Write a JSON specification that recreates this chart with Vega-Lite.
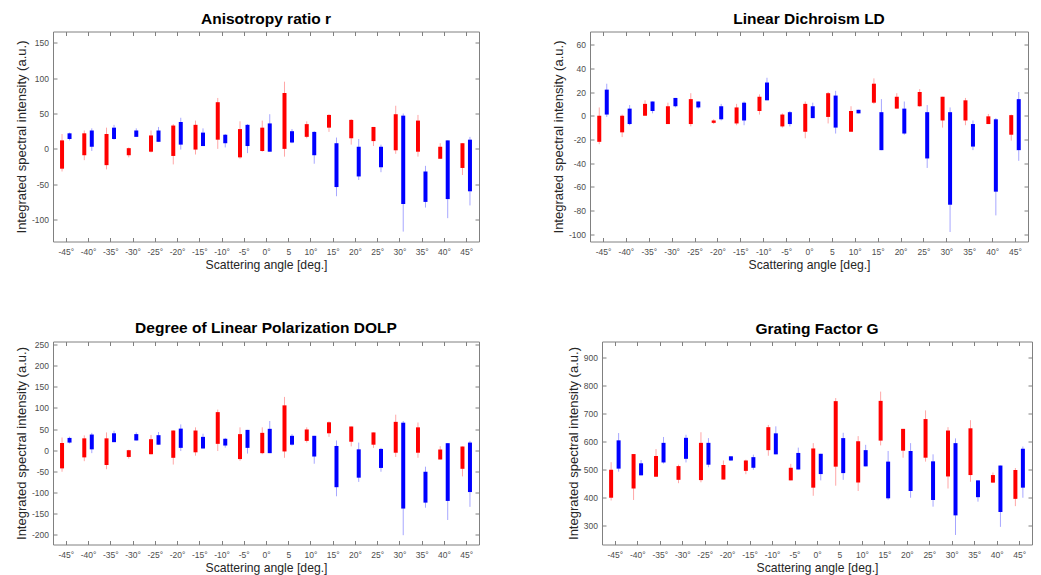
{
"$schema": "https://vega.github.io/schema/vega-lite/v6.json",
"padding": {"left": 14, "top": 10.5, "right": 0, "bottom": 0},
"datasets": {
"p1": [
{"a":-45,"s":"r","lo":-32,"b0":-28,"b1":12,"hi":21},{"a":-45,"s":"b","lo":12,"b0":14,"b1":22,"hi":23},
{"a":-40,"s":"r","lo":-16,"b0":-9,"b1":22,"hi":26},{"a":-40,"s":"b","lo":-3,"b0":3,"b1":26,"hi":29},
{"a":-35,"s":"r","lo":-29,"b0":-23,"b1":21,"hi":30},{"a":-35,"s":"b","lo":13,"b0":14,"b1":30,"hi":34},
{"a":-30,"s":"r","lo":-12,"b0":-9,"b1":1,"hi":2},{"a":-30,"s":"b","lo":17,"b0":17,"b1":26,"hi":29},
{"a":-25,"s":"r","lo":-5,"b0":-4,"b1":19,"hi":26},{"a":-25,"s":"b","lo":10,"b0":10,"b1":26,"hi":31},
{"a":-20,"s":"r","lo":-22,"b0":-10,"b1":33,"hi":35},{"a":-20,"s":"b","lo":-1,"b0":6,"b1":38,"hi":44},
{"a":-15,"s":"r","lo":-8,"b0":-1,"b1":34,"hi":40},{"a":-15,"s":"b","lo":4,"b0":4,"b1":23,"hi":29},
{"a":-10,"s":"r","lo":0,"b0":13,"b1":66,"hi":72},{"a":-10,"s":"b","lo":2,"b0":8,"b1":20,"hi":21},
{"a":-5,"s":"r","lo":-14,"b0":-12,"b1":28,"hi":39},{"a":-5,"s":"b","lo":-6,"b0":4,"b1":34,"hi":35},
{"a":0,"s":"r","lo":-4,"b0":-3,"b1":30,"hi":40},{"a":0,"s":"b","lo":-4,"b0":-4,"b1":36,"hi":49},
{"a":5,"s":"r","lo":-11,"b0":0,"b1":79,"hi":95},{"a":5,"s":"b","lo":8,"b0":9,"b1":25,"hi":28},
{"a":10,"s":"r","lo":15,"b0":17,"b1":35,"hi":39},{"a":10,"s":"b","lo":-21,"b0":-9,"b1":24,"hi":25},
{"a":15,"s":"r","lo":24,"b0":30,"b1":48,"hi":49},{"a":15,"s":"b","lo":-67,"b0":-54,"b1":8,"hi":16},
{"a":20,"s":"r","lo":6,"b0":15,"b1":41,"hi":42},{"a":20,"s":"b","lo":-44,"b0":-39,"b1":3,"hi":14},
{"a":25,"s":"r","lo":4,"b0":11,"b1":31,"hi":31},{"a":25,"s":"b","lo":-33,"b0":-26,"b1":3,"hi":6},
{"a":30,"s":"r","lo":-7,"b0":-2,"b1":49,"hi":61},{"a":30,"s":"b","lo":-117,"b0":-78,"b1":47,"hi":50},
{"a":35,"s":"r","lo":-11,"b0":-4,"b1":40,"hi":48},{"a":35,"s":"b","lo":-83,"b0":-75,"b1":-32,"hi":-24},
{"a":40,"s":"r","lo":-14,"b0":-14,"b1":3,"hi":8},{"a":40,"s":"b","lo":-98,"b0":-71,"b1":12,"hi":12},
{"a":45,"s":"r","lo":-37,"b0":-27,"b1":8,"hi":8},{"a":45,"s":"b","lo":-80,"b0":-60,"b1":13,"hi":17}
],
"p2": [
{"a":-45,"s":"r","lo":-24,"b0":-22,"b1":0,"hi":7},{"a":-45,"s":"b","lo":-1,"b0":1,"b1":22,"hi":27},
{"a":-40,"s":"r","lo":-18,"b0":-14,"b1":0,"hi":1},{"a":-40,"s":"b","lo":-8,"b0":-7,"b1":6,"hi":9},
{"a":-35,"s":"r","lo":0,"b0":0,"b1":10,"hi":13},{"a":-35,"s":"b","lo":2,"b0":4,"b1":12,"hi":12},
{"a":-30,"s":"r","lo":-7,"b0":-7,"b1":8,"hi":11},{"a":-30,"s":"b","lo":7,"b0":8,"b1":15,"hi":15},
{"a":-25,"s":"r","lo":-9,"b0":-7,"b1":14,"hi":19},{"a":-25,"s":"b","lo":6,"b0":7,"b1":12,"hi":12},
{"a":-20,"s":"r","lo":-7,"b0":-6,"b1":-4,"hi":-3},{"a":-20,"s":"b","lo":-4,"b0":-3,"b1":8,"hi":10},
{"a":-15,"s":"r","lo":-8,"b0":-6.5,"b1":7,"hi":10},{"a":-15,"s":"b","lo":-8,"b0":-4,"b1":11,"hi":12},
{"a":-10,"s":"r","lo":1,"b0":4,"b1":16,"hi":18},{"a":-10,"s":"b","lo":13,"b0":13,"b1":28,"hi":32},
{"a":-5,"s":"r","lo":-10,"b0":-9,"b1":1,"hi":2},{"a":-5,"s":"b","lo":-9,"b0":-7,"b1":3,"hi":4},
{"a":0,"s":"r","lo":-19,"b0":-13.5,"b1":10,"hi":12},{"a":0,"s":"b","lo":-2,"b0":-2,"b1":8,"hi":11},
{"a":5,"s":"r","lo":-6.5,"b0":-1,"b1":19,"hi":20},{"a":5,"s":"b","lo":-15,"b0":-10,"b1":17,"hi":21},
{"a":10,"s":"r","lo":-13.5,"b0":-13.5,"b1":4,"hi":8},{"a":10,"s":"b","lo":2,"b0":2,"b1":5,"hi":5},
{"a":15,"s":"r","lo":10,"b0":11,"b1":27,"hi":31.5},{"a":15,"s":"b","lo":-29,"b0":-29,"b1":3,"hi":14},
{"a":20,"s":"r","lo":6,"b0":6,"b1":16,"hi":19},{"a":20,"s":"b","lo":-16,"b0":-15,"b1":6,"hi":12},
{"a":25,"s":"r","lo":7.5,"b0":8,"b1":20,"hi":22.5},{"a":25,"s":"b","lo":-44,"b0":-36,"b1":3,"hi":9},
{"a":30,"s":"r","lo":-10,"b0":-4,"b1":16,"hi":16},{"a":30,"s":"b","lo":-98,"b0":-75,"b1":3,"hi":7},
{"a":35,"s":"r","lo":-8,"b0":-4,"b1":13,"hi":15},{"a":35,"s":"b","lo":-29,"b0":-26,"b1":-7,"hi":-4},
{"a":40,"s":"r","lo":-7,"b0":-7,"b1":-0.5,"hi":1.5},{"a":40,"s":"b","lo":-84,"b0":-64,"b1":-3,"hi":-2},
{"a":45,"s":"r","lo":-21,"b0":-16,"b1":0.5,"hi":1},{"a":45,"s":"b","lo":-38,"b0":-29,"b1":14,"hi":20}
],
"p3": [
{"a":-45,"s":"r","lo":-51,"b0":-43,"b1":17,"hi":30},{"a":-45,"s":"b","lo":16,"b0":18,"b1":29,"hi":32},
{"a":-40,"s":"r","lo":-26,"b0":-17,"b1":28,"hi":35},{"a":-40,"s":"b","lo":-7,"b0":2,"b1":37,"hi":41},
{"a":-35,"s":"r","lo":-45,"b0":-35,"b1":28,"hi":42},{"a":-35,"s":"b","lo":19,"b0":19,"b1":40,"hi":46},
{"a":-30,"s":"r","lo":-20,"b0":-16,"b1":0,"hi":1},{"a":-30,"s":"b","lo":23,"b0":23,"b1":38,"hi":42},
{"a":-25,"s":"r","lo":-10,"b0":-9.5,"b1":26,"hi":36},{"a":-25,"s":"b","lo":13,"b0":13,"b1":35.5,"hi":43},
{"a":-20,"s":"r","lo":-34,"b0":-18,"b1":46.5,"hi":47},{"a":-20,"s":"b","lo":-2,"b0":5.5,"b1":51,"hi":61},
{"a":-15,"s":"r","lo":-13,"b0":-5,"b1":46.5,"hi":54},{"a":-15,"s":"b","lo":4,"b0":4,"b1":31.5,"hi":39},
{"a":-10,"s":"r","lo":-2,"b0":15,"b1":90,"hi":96},{"a":-10,"s":"b","lo":6,"b0":11,"b1":27,"hi":29},
{"a":-5,"s":"r","lo":-25,"b0":-21,"b1":38,"hi":54},{"a":-5,"s":"b","lo":-8,"b0":5.5,"b1":48,"hi":48},
{"a":0,"s":"r","lo":-9.5,"b0":-7,"b1":41,"hi":54},{"a":0,"s":"b","lo":-7,"b0":-7,"b1":50.5,"hi":69},
{"a":5,"s":"r","lo":-18,"b0":-3,"b1":106,"hi":126},{"a":5,"s":"b","lo":11,"b0":13,"b1":34,"hi":38},
{"a":10,"s":"r","lo":18,"b0":22,"b1":49,"hi":54},{"a":10,"s":"b","lo":-32,"b0":-15,"b1":34,"hi":34},
{"a":15,"s":"r","lo":31.5,"b0":40,"b1":66,"hi":68},{"a":15,"s":"b","lo":-109,"b0":-87.5,"b1":10,"hi":23},
{"a":20,"s":"r","lo":9,"b0":20,"b1":56,"hi":56},{"a":20,"s":"b","lo":-75,"b0":-65,"b1":2,"hi":18},
{"a":25,"s":"r","lo":5.5,"b0":13,"b1":42,"hi":42},{"a":25,"s":"b","lo":-51,"b0":-42,"b1":3,"hi":5.5},
{"a":30,"s":"r","lo":-16,"b0":-6,"b1":67,"hi":84},{"a":30,"s":"b","lo":-201,"b0":-138,"b1":65,"hi":69},
{"a":35,"s":"r","lo":-18,"b0":-6,"b1":54,"hi":65.5},{"a":35,"s":"b","lo":-136,"b0":-124,"b1":-51,"hi":-39},
{"a":40,"s":"r","lo":-22,"b0":-22,"b1":1.6,"hi":9.5},{"a":40,"s":"b","lo":-165,"b0":-120,"b1":16.6,"hi":17},
{"a":45,"s":"r","lo":-62,"b0":-44,"b1":8.7,"hi":9},{"a":45,"s":"b","lo":-134,"b0":-99,"b1":18,"hi":22}
],
"p4": [
{"a":-45,"s":"r","lo":390,"b0":400,"b1":500,"hi":527},{"a":-45,"s":"b","lo":493,"b0":504,"b1":605,"hi":631},
{"a":-40,"s":"r","lo":392,"b0":433,"b1":556,"hi":556},{"a":-40,"s":"b","lo":480,"b0":480,"b1":523,"hi":534.5},
{"a":-35,"s":"r","lo":475,"b0":475,"b1":549,"hi":574},{"a":-35,"s":"b","lo":522,"b0":526,"b1":596,"hi":617},
{"a":-30,"s":"r","lo":452,"b0":464,"b1":513,"hi":518},{"a":-30,"s":"b","lo":526,"b0":539,"b1":614,"hi":625},
{"a":-25,"s":"r","lo":455,"b0":463,"b1":596,"hi":634},{"a":-25,"s":"b","lo":509,"b0":518,"b1":596,"hi":613},
{"a":-20,"s":"r","lo":465,"b0":465,"b1":517,"hi":533},{"a":-20,"s":"b","lo":532,"b0":533,"b1":548,"hi":548},
{"a":-15,"s":"r","lo":484,"b0":496,"b1":533,"hi":536},{"a":-15,"s":"b","lo":500,"b0":507,"b1":545,"hi":554},
{"a":-10,"s":"r","lo":550,"b0":570,"b1":652,"hi":660},{"a":-10,"s":"b","lo":555,"b0":555,"b1":630,"hi":655},
{"a":-5,"s":"r","lo":462,"b0":462,"b1":507,"hi":521},{"a":-5,"s":"b","lo":501,"b0":501,"b1":560,"hi":579},
{"a":0,"s":"r","lo":407,"b0":436,"b1":576,"hi":595},{"a":0,"s":"b","lo":462,"b0":484.5,"b1":557,"hi":557},
{"a":5,"s":"r","lo":443,"b0":511,"b1":745,"hi":756},{"a":5,"s":"b","lo":464,"b0":488,"b1":613,"hi":632},
{"a":10,"s":"r","lo":424,"b0":454,"b1":602,"hi":620},{"a":10,"s":"b","lo":512,"b0":512,"b1":570,"hi":589},
{"a":15,"s":"r","lo":587,"b0":604,"b1":746,"hi":779},{"a":15,"s":"b","lo":393,"b0":398,"b1":529,"hi":567},
{"a":20,"s":"r","lo":543,"b0":568,"b1":646,"hi":646},{"a":20,"s":"b","lo":400,"b0":424,"b1":567,"hi":595},
{"a":25,"s":"r","lo":529,"b0":543,"b1":681,"hi":712},{"a":25,"s":"b","lo":368,"b0":392,"b1":530,"hi":555},
{"a":30,"s":"r","lo":433,"b0":476,"b1":640,"hi":652},{"a":30,"s":"b","lo":267,"b0":337,"b1":595,"hi":612},
{"a":35,"s":"r","lo":457,"b0":481,"b1":648,"hi":677},{"a":35,"s":"b","lo":386,"b0":402,"b1":462,"hi":462},
{"a":40,"s":"r","lo":453,"b0":454,"b1":481,"hi":490},{"a":40,"s":"b","lo":296,"b0":349,"b1":515,"hi":515},
{"a":45,"s":"r","lo":370,"b0":396,"b1":499,"hi":506},{"a":45,"s":"b","lo":400,"b0":436,"b1":575,"hi":583}
]
},
"spacing": 48,
"vconcat": [
{"hconcat": [
{"width": 426, "height": 210, "title": "Anisotropy ratio r", "data": {"name": "p1"},
 "resolve": {"axis": {"x": "independent", "y": "independent"}},
 "layer": [
  {"transform": [{"filter": "datum.s == 'r'"}], "mark": {"type": "rule", "xOffset": -3.75, "color": "#ff0000", "opacity": 0.35},
   "encoding": {"x": {"field": "a", "type": "quantitative", "scale": {"domain": [-46.75, 46.75], "nice": false, "zero": false}, "axis": {"values": [-45,-40,-35,-30,-25,-20,-15,-10,-5,0,5,10,15,20,25,30,35,40,45], "labelExpr": "datum.value == 5 ? '5' : datum.value + '°'", "title": "Scattering angle [deg.]"}},
    "y": {"field": "lo", "type": "quantitative", "scale": {"domain": [-131, 166], "nice": false, "zero": false}, "axis": {"values": [-100,-50,0,50,100,150], "labelExpr": "'' + datum.value", "title": "Integrated spectral intensity (a.u.)"}},
    "y2": {"field": "hi"}}},
  {"transform": [{"filter": "datum.s == 'r'"}], "mark": {"type": "bar", "orient": "vertical", "xOffset": -3.75, "color": "#ff0000", "size": 4},
   "encoding": {"x": {"field": "a", "type": "quantitative", "scale": {"domain": [-46.75, 46.75], "nice": false, "zero": false}, "axis": {"orient": "top", "values": [-45,-40,-35,-30,-25,-20,-15,-10,-5,0,5,10,15,20,25,30,35,40,45], "labels": false, "title": null}},
    "y": {"field": "b0", "type": "quantitative", "scale": {"domain": [-131, 166], "nice": false, "zero": false}, "axis": {"orient": "right", "values": [-100,-50,0,50,100,150], "labels": false, "title": null}},
    "y2": {"field": "b1"}}},
  {"transform": [{"filter": "datum.s == 'b'"}], "mark": {"type": "rule", "xOffset": 3.75, "color": "#0000ff", "opacity": 0.35},
   "encoding": {"x": {"field": "a", "type": "quantitative", "axis": null}, "y": {"field": "lo", "type": "quantitative", "axis": null}, "y2": {"field": "hi"}}},
  {"transform": [{"filter": "datum.s == 'b'"}], "mark": {"type": "bar", "orient": "vertical", "xOffset": 3.75, "color": "#0000ff", "size": 4},
   "encoding": {"x": {"field": "a", "type": "quantitative", "axis": null}, "y": {"field": "b0", "type": "quantitative", "axis": null}, "y2": {"field": "b1"}}}
 ]},
{"width": 438, "height": 210, "title": "Linear Dichroism LD", "data": {"name": "p2"},
 "resolve": {"axis": {"x": "independent", "y": "independent"}},
 "layer": [
  {"transform": [{"filter": "datum.s == 'r'"}], "mark": {"type": "rule", "xOffset": -3.75, "color": "#ff0000", "opacity": 0.35},
   "encoding": {"x": {"field": "a", "type": "quantitative", "scale": {"domain": [-46.75, 46.75], "nice": false, "zero": false}, "axis": {"values": [-45,-40,-35,-30,-25,-20,-15,-10,-5,0,5,10,15,20,25,30,35,40,45], "labelExpr": "datum.value == 5 ? '5' : datum.value + '°'", "title": "Scattering angle [deg.]"}},
    "y": {"field": "lo", "type": "quantitative", "scale": {"domain": [-106, 71], "nice": false, "zero": false}, "axis": {"values": [-100,-80,-60,-40,-20,0,20,40,60], "labelExpr": "'' + datum.value", "title": "Integrated spectral intensity (a.u.)"}},
    "y2": {"field": "hi"}}},
  {"transform": [{"filter": "datum.s == 'r'"}], "mark": {"type": "bar", "orient": "vertical", "xOffset": -3.75, "color": "#ff0000", "size": 4},
   "encoding": {"x": {"field": "a", "type": "quantitative", "scale": {"domain": [-46.75, 46.75], "nice": false, "zero": false}, "axis": {"orient": "top", "values": [-45,-40,-35,-30,-25,-20,-15,-10,-5,0,5,10,15,20,25,30,35,40,45], "labels": false, "title": null}},
    "y": {"field": "b0", "type": "quantitative", "scale": {"domain": [-106, 71], "nice": false, "zero": false}, "axis": {"orient": "right", "values": [-100,-80,-60,-40,-20,0,20,40,60], "labels": false, "title": null}},
    "y2": {"field": "b1"}}},
  {"transform": [{"filter": "datum.s == 'b'"}], "mark": {"type": "rule", "xOffset": 3.75, "color": "#0000ff", "opacity": 0.35},
   "encoding": {"x": {"field": "a", "type": "quantitative", "axis": null}, "y": {"field": "lo", "type": "quantitative", "axis": null}, "y2": {"field": "hi"}}},
  {"transform": [{"filter": "datum.s == 'b'"}], "mark": {"type": "bar", "orient": "vertical", "xOffset": 3.75, "color": "#0000ff", "size": 4},
   "encoding": {"x": {"field": "a", "type": "quantitative", "axis": null}, "y": {"field": "b0", "type": "quantitative", "axis": null}, "y2": {"field": "b1"}}}
 ]}
], "spacing": 71},
{"hconcat": [
{"width": 426, "height": 203, "title": "Degree of Linear Polarization DOLP", "data": {"name": "p3"},
 "resolve": {"axis": {"x": "independent", "y": "independent"}},
 "layer": [
  {"transform": [{"filter": "datum.s == 'r'"}], "mark": {"type": "rule", "xOffset": -3.75, "color": "#ff0000", "opacity": 0.35},
   "encoding": {"x": {"field": "a", "type": "quantitative", "scale": {"domain": [-46.75, 46.75], "nice": false, "zero": false}, "axis": {"values": [-45,-40,-35,-30,-25,-20,-15,-10,-5,0,5,10,15,20,25,30,35,40,45], "labelExpr": "datum.value == 5 ? '5' : datum.value + '°'", "title": "Scattering angle [deg.]"}},
    "y": {"field": "lo", "type": "quantitative", "scale": {"domain": [-223, 257], "nice": false, "zero": false}, "axis": {"values": [-200,-150,-100,-50,0,50,100,150,200,250], "labelExpr": "'' + datum.value", "title": "Integrated spectral intensity (a.u.)"}},
    "y2": {"field": "hi"}}},
  {"transform": [{"filter": "datum.s == 'r'"}], "mark": {"type": "bar", "orient": "vertical", "xOffset": -3.75, "color": "#ff0000", "size": 4},
   "encoding": {"x": {"field": "a", "type": "quantitative", "scale": {"domain": [-46.75, 46.75], "nice": false, "zero": false}, "axis": {"orient": "top", "values": [-45,-40,-35,-30,-25,-20,-15,-10,-5,0,5,10,15,20,25,30,35,40,45], "labels": false, "title": null}},
    "y": {"field": "b0", "type": "quantitative", "scale": {"domain": [-223, 257], "nice": false, "zero": false}, "axis": {"orient": "right", "values": [-200,-150,-100,-50,0,50,100,150,200,250], "labels": false, "title": null}},
    "y2": {"field": "b1"}}},
  {"transform": [{"filter": "datum.s == 'b'"}], "mark": {"type": "rule", "xOffset": 3.75, "color": "#0000ff", "opacity": 0.35},
   "encoding": {"x": {"field": "a", "type": "quantitative", "axis": null}, "y": {"field": "lo", "type": "quantitative", "axis": null}, "y2": {"field": "hi"}}},
  {"transform": [{"filter": "datum.s == 'b'"}], "mark": {"type": "bar", "orient": "vertical", "xOffset": 3.75, "color": "#0000ff", "size": 4},
   "encoding": {"x": {"field": "a", "type": "quantitative", "axis": null}, "y": {"field": "b0", "type": "quantitative", "axis": null}, "y2": {"field": "b1"}}}
 ]},
{"width": 430, "height": 203, "title": "Grating Factor G", "data": {"name": "p4"},
 "resolve": {"axis": {"x": "independent", "y": "independent"}},
 "layer": [
  {"transform": [{"filter": "datum.s == 'r'"}], "mark": {"type": "rule", "xOffset": -3.75, "color": "#ff0000", "opacity": 0.35},
   "encoding": {"x": {"field": "a", "type": "quantitative", "scale": {"domain": [-46.75, 46.75], "nice": false, "zero": false}, "axis": {"values": [-45,-40,-35,-30,-25,-20,-15,-10,-5,0,5,10,15,20,25,30,35,40,45], "labelExpr": "datum.value == 5 ? '5' : datum.value + '°'", "title": "Scattering angle [deg.]"}},
    "y": {"field": "lo", "type": "quantitative", "scale": {"domain": [233, 958], "nice": false, "zero": false}, "axis": {"values": [300,400,500,600,700,800,900], "labelExpr": "'' + datum.value", "title": "Integrated spectral intensity (a.u.)"}},
    "y2": {"field": "hi"}}},
  {"transform": [{"filter": "datum.s == 'r'"}], "mark": {"type": "bar", "orient": "vertical", "xOffset": -3.75, "color": "#ff0000", "size": 4},
   "encoding": {"x": {"field": "a", "type": "quantitative", "scale": {"domain": [-46.75, 46.75], "nice": false, "zero": false}, "axis": {"orient": "top", "values": [-45,-40,-35,-30,-25,-20,-15,-10,-5,0,5,10,15,20,25,30,35,40,45], "labels": false, "title": null}},
    "y": {"field": "b0", "type": "quantitative", "scale": {"domain": [233, 958], "nice": false, "zero": false}, "axis": {"orient": "right", "values": [300,400,500,600,700,800,900], "labels": false, "title": null}},
    "y2": {"field": "b1"}}},
  {"transform": [{"filter": "datum.s == 'b'"}], "mark": {"type": "rule", "xOffset": 3.75, "color": "#0000ff", "opacity": 0.35},
   "encoding": {"x": {"field": "a", "type": "quantitative", "axis": null}, "y": {"field": "lo", "type": "quantitative", "axis": null}, "y2": {"field": "hi"}}},
  {"transform": [{"filter": "datum.s == 'b'"}], "mark": {"type": "bar", "orient": "vertical", "xOffset": 3.75, "color": "#0000ff", "size": 4},
   "encoding": {"x": {"field": "a", "type": "quantitative", "axis": null}, "y": {"field": "b0", "type": "quantitative", "axis": null}, "y2": {"field": "b1"}}}
 ]}
], "spacing": 86}
],
"config": {
 "font": "Liberation Sans",
 "view": {"stroke": "#808080", "strokeWidth": 1},
 "axis": {"grid": false, "domain": false, "ticks": true, "tickColor": "#808080", "tickSize": -4, "labelFontSize": 8.5, "labelColor": "#4d4d4d", "labelFont": "Liberation Sans", "labelOverlap": false, "labelFlush": false, "titleFont": "Liberation Sans", "titleFontWeight": "normal", "titleColor": "#262626"},
 "axisX": {"labelPadding": 9.5, "titlePadding": 2.5, "titleFontSize": 12.2},
 "axisY": {"labelPadding": 8.5, "titlePadding": 3, "titleFontSize": 13},
 "title": {"fontSize": 15.5, "fontWeight": "bold", "color": "#000000", "offset": 4, "font": "Liberation Sans"}
}
}
